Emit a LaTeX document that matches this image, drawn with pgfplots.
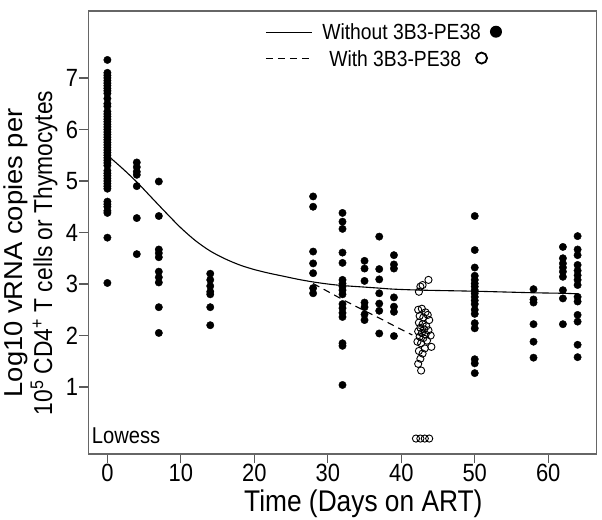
\documentclass[border=0pt]{standalone}
\usepackage{pgfplots}
\pgfplotsset{compat=1.18}
\usepackage{graphicx}
\usepackage{fontspec}
\setmainfont{Liberation Sans}[FakeStretch=0.88]
\begin{document}
\begin{tikzpicture}
\useasboundingbox (-88.3bp,-66bp) rectangle (513.7bp,454bp);
\begin{axis}[
  at={(0,0)}, anchor=south west,
  width=508.4bp, height=443bp, scale only axis,
  xmin=-2.6, xmax=66.6, ymin=-0.3, ymax=8.3,
  xtick={0,10,...,60}, ytick={1,...,7},
  tick align=outside, xtick pos=bottom, ytick pos=left,
  major tick length=9bp,
  tick style={black!65, line width=1.2bp},
  axis line style={black!60, line width=1.3bp},
  /pgf/number format/assume math mode=true,
  tick label style={font=\fontsize{25}{30}\selectfont},
  xticklabel style={inner sep=1bp},
  yticklabel style={inner sep=1bp},
  xlabel={Time (Days on ART)},
  xlabel style={font=\fontsize{30}{36}\selectfont, at={([yshift=-57.7bp]rel axis cs:0.541,0)}, anchor=base, inner sep=0pt},
  ylabel={\scalebox{1.2}[1]{Log10 vRNA copies per}\\10\textsuperscript{5} CD4\textsuperscript{+} T cells or Thymocytes},
  ylabel style={font=\fontsize{26}{29.5}\selectfont, align=center, at={([xshift=-57.5bp]rel axis cs:0,0.454)}, anchor=center, inner sep=0pt},
  legend style={draw=none, fill=none, at={(rel axis cs:0.818,0.976)}, anchor=north east,
    font=\fontsize{22}{25}\selectfont, row sep=5bp, inner sep=0pt},
  legend cell align=left,
  legend image code/.code={\draw[#1] (0bp,0bp) -- (46bp,0bp); \path (54bp,0bp);},
]
% Without 3B3-PE38 (filled)
\addplot[only marks, mark=*, mark size=3.7bp, black, forget plot] coordinates {
(0,7.35)(0,7.10)(0,7.05)(0,7.00)(0,6.95)(0,6.90)(0,6.85)(0,6.80)(0,6.75)(0,6.70)
(0,6.60)(0,6.50)(0,6.45)(0,6.35)(0,6.30)(0,6.25)(0,6.20)(0,6.15)(0,6.10)(0,6.05)
(0,6.00)(0,5.95)(0,5.90)(0,5.85)(0,5.80)(0,5.75)(0,5.70)(0,5.65)(0,5.60)(0,5.55)
(0,5.50)(0,5.45)(0,5.40)(0,5.35)(0,5.30)(0,5.20)(0,5.15)(0,5.10)(0,5.05)(0,5.00)
(0,4.95)(0,4.90)(0,4.85)(0,4.60)(0,4.55)(0,4.50)(0,4.42)(0,4.38)(0,3.90)(0,3.02)
(4,5.36)(4,5.27)(4,5.18)(4,5.12)(4,4.90)(4,4.28)(4,3.58)
(7,4.99)(7,4.32)(7,3.67)(7,3.60)(7,3.52)(7,3.24)(7,3.13)(7,3.03)(7,2.55)(7,2.05)
(14,3.20)(14,3.08)(14,2.96)(14,2.85)(14,2.80)(14,2.55)(14,2.20)
(28,4.70)(28,4.50)(28,3.63)(28,3.40)(28,3.21)(28,2.92)(28,2.82)
(32,4.38)(32,4.21)(32,4.07)(32,3.61)(32,3.41)(32,3.08)(32,3.01)(32,2.95)(32,2.88)
(32,2.80)(32,2.61)(32,2.53)(32,2.44)(32,2.36)(32,1.85)(32,1.80)(32,1.04)
(35,3.45)(35,3.30)(35,3.06)(35,2.64)(35,2.55)(35,2.41)(35,2.30)
(37,3.92)(37,3.29)(37,3.09)(37,2.82)(37,2.62)(37,2.48)(37,2.04)
(39,3.56)(39,3.38)(39,3.30)(39,2.74)(39,2.56)(39,2.46)(39,1.99)
(50,4.32)(50,3.66)(50,3.32)(50,3.16)(50,3.08)(50,3.01)(50,2.95)(50,2.88)(50,2.82)
(50,2.75)(50,2.68)(50,2.61)(50,2.50)(50,2.42)(50,2.24)(50,2.14)(50,1.54)(50,1.46)(50,1.27)
(58,2.90)(58,2.70)(58,2.64)(58,2.22)(58,1.88)(58,1.57)
(62,3.72)(62,3.50)(62,3.40)(62,3.32)(62,3.24)(62,3.14)(62,2.88)(62,2.72)(62,2.22)
(64,3.93)(64,3.67)(64,3.56)(64,3.37)(64,3.26)(64,3.17)(64,3.08)(64,2.98)(64,2.75)
(64,2.66)(64,2.40)(64,2.27)(64,1.82)(64,1.58)
};
% With 3B3-PE38 (open)
\addplot[only marks, mark=o, mark size=3.6bp, black, mark options={line width=0.9bp}, forget plot] coordinates {
(43.7,3.08)(42.6,2.95)(42.9,2.98)(42.4,2.85)
(42.3,2.50)(42.8,2.52)(43.3,2.45)(43.6,2.40)(42.5,2.38)(43.0,2.35)(43.8,2.30)
(42.4,2.25)(42.9,2.22)(43.4,2.18)(42.6,2.15)(43.1,2.12)(43.7,2.10)(42.3,2.08)
(42.8,2.05)(43.3,2.02)(44.0,2.00)(42.5,1.98)(43.0,1.95)(43.5,1.90)(42.2,1.88)
(42.7,1.85)(44.1,1.78)(43.2,1.75)(42.4,1.70)(42.9,1.65)(42.6,1.55)(42.3,1.45)(42.7,1.32)
(42.0,0)(42.6,0)(43.2,0)(43.8,0)
};
% Lowess without
\addplot[black, line width=1.1bp, smooth, tension=0.5] coordinates {
(0,5.50)(2,5.25)(4,4.98)(6,4.68)(8,4.38)(10,4.09)(12,3.84)(14,3.64)(16,3.49)
(18,3.37)(20,3.28)(22,3.21)(24,3.15)(26,3.09)(28,3.04)(30,3.00)(32,2.97)
(35,2.94)(37,2.92)(39,2.90)(43,2.88)(50,2.86)(58,2.83)(62,2.82)(64,2.81)
};
\addlegendentry{Without 3B3-PE38\hspace{9bp}\tikz[baseline=-8bp]\fill (0,0) circle (6bp);}
% Lowess with
\addplot[black, line width=1.1bp, dash pattern=on 7bp off 5bp] coordinates {
(28,3.01)(32,2.70)(35,2.48)(37,2.34)(39,2.19)(41.5,2.01)
};
\addlegendentry{\hspace{7bp}With 3B3-PE38\hspace{14bp}\tikz[baseline=-8bp]\draw[line width=1.8bp] (0,0) circle (5.5bp);}
\node[anchor=base west, font=\fontsize{23}{26}\selectfont, inner sep=0pt] at ([xshift=3.4bp, yshift=10.7bp]rel axis cs:0,0) {Lowess};
\end{axis}
\end{tikzpicture}
\end{document}
